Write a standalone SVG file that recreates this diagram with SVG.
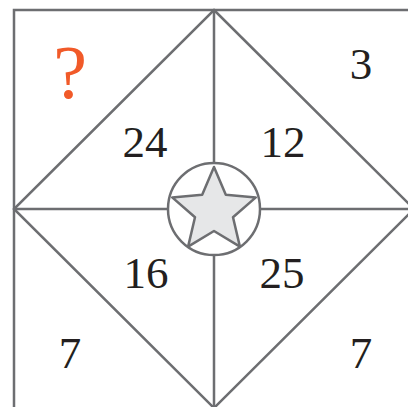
<svg xmlns="http://www.w3.org/2000/svg" width="408" height="407" viewBox="0 0 408 407">
<style>
.ln{fill:none;stroke:#6d6e71;stroke-width:2.5}
.num{font-size:45px;fill:#231f20;text-anchor:middle}
.q{font-size:76px;fill:#f15a29;text-anchor:middle}
</style>
<rect width="408" height="407" fill="#fff"/>
<g id="connectors">
<rect class="ln" x="14" y="10" width="400" height="399" stroke="#808285" stroke-width="3"/>
<polygon class="ln" points="214,10 414,209 214,408 14,209"/>
<line class="ln" x1="214" y1="10" x2="214" y2="408"/>
<line class="ln" x1="14" y1="209" x2="414" y2="209"/>
</g>
<g id="center">
<circle cx="214" cy="209" r="46" fill="#fff" stroke="#6d6e71" stroke-width="2.5"/>
<polygon fill="#e6e7e8" stroke="#6d6e71" stroke-width="2.5" stroke-linejoin="round" points="214,167 225.8,194.8 255.8,197.4 233,217.2 239.9,246.6 214,231 188.1,246.6 195,217.2 172.2,197.4 202.2,194.8"/>
</g>
<g font-family="Liberation Serif, serif">
<g id="q"><text class="q" x="70" y="98">?</text></g>
<g id="n3"><text class="num" x="361" y="79">3</text></g>
<g id="n24"><text class="num" x="145" y="157">24</text></g>
<g id="n12"><text class="num" x="283" y="157">12</text></g>
<g id="n16"><text class="num" x="146" y="288">16</text></g>
<g id="n25"><text class="num" x="282" y="288">25</text></g>
<g id="n7a"><text class="num" x="70" y="368">7</text></g>
<g id="n7b"><text class="num" x="361" y="368">7</text></g>
</g>
</svg>
